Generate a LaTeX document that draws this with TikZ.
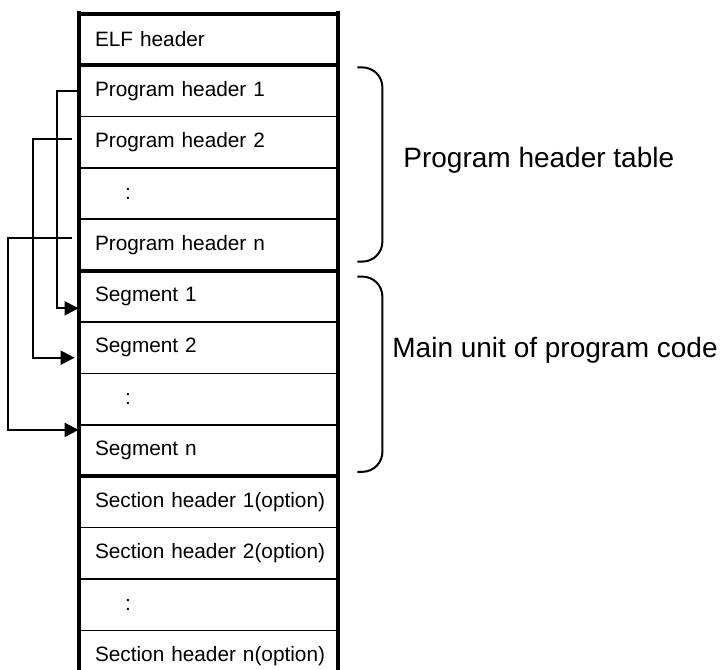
\documentclass[tikz,border=0pt]{standalone}
\usepackage{fontspec}
\setmainfont{Liberation Sans}
\usetikzlibrary{arrows.meta,positioning}
\tikzset{
    %Define style for the rows of the file
    cell/.style={
           rectangle,
           minimum width=129.5pt,
           minimum height=25.3pt,
           text width=129.5pt,
           inner sep=0pt,
           align=left,
           execute at begin node={\hspace*{8pt}},
           font=\fontsize{10.4}{12}\selectfont},
    % heavy and light rules
    wall/.style={line width=2pt},
    rule/.style={line width=0.8pt},
    % Define arrow style
    link/.style={
           -{Triangle[length=7pt,width=7pt]},
           line width=1pt},
    brace/.style={line width=1pt, rounded corners=10pt},
    note/.style={font=\fontsize{14}{17}\selectfont, anchor=west, inner sep=0pt}
}
\begin{document}
\begin{tikzpicture}[node distance=0pt]
\useasboundingbox (0,0) rectangle (362pt,-335pt);

 %rows
\node[cell] (elf) at (104.25pt,-19.65pt) {ELF header};
\node[cell, below=of elf] (ph1) {Program header 1};
\node[cell, below=of ph1] (ph2) {Program header 2};
\node[cell, below=of ph2] (phd) {\hspace*{15pt}:};
\node[cell, below=of phd] (phn) {Program header n};
\node[cell, below=of phn] (seg1) {Segment 1};
\node[cell, below=of seg1] (seg2) {Segment 2};
\node[cell, below=of seg2] (segd) {\hspace*{15pt}:};
\node[cell, below=of segd] (segn) {Segment n};
\node[cell, below=of segn] (sh1) {Section header 1(option)};
\node[cell, below=of sh1] (sh2) {Section header 2(option)};
\node[cell, below=of sh2] (shd) {\hspace*{15pt}:};
\node[cell, below=of shd] (shn) {Section header n(option)};

 %rules
\foreach \r in {ph1,ph2,phd,seg1,seg2,segd,sh1,sh2,shd}
    \draw[rule] (\r.south west) -- (\r.south east);
\draw[wall] (elf.north west) -- (elf.north east);
\foreach \r in {elf,phn,segn}
    \draw[wall] (\r.south west) -- (\r.south east);
\draw[wall] ([yshift=1.5pt]elf.north west) -- (shn.south west);
\draw[wall] ([yshift=1.5pt]elf.north east) -- (shn.south east);

 %links
\draw[link] (ph1.west) -- ++(-11pt,0) |- ([yshift=-6pt]seg1.west);
\draw[link] ([xshift=-3.5pt,yshift=1.5pt]ph2.west) -- ++(-19.5pt,0) |- ([xshift=-2pt,yshift=-5pt]seg2.west);
\draw[link] ([xshift=-3.5pt,yshift=3.3pt]phn.west) -- ++(-32pt,0) |- ([yshift=10.3pt]segn.west);

 %braces
\draw[brace] ([xshift=9.5pt,yshift=-1.2pt]ph1.north east) -- ++(12.5pt,0) |- ([xshift=9.5pt,yshift=4.5pt]phn.south east);
\draw[brace] ([xshift=9.5pt,yshift=-3pt]seg1.north east) -- ++(12.5pt,0) |- ([xshift=9.5pt,yshift=2.2pt]segn.south east);

\node[note] (phtable) at (201.5pt,-80pt) {Program header table};
\node[note] (mainunit) at (196pt,-175pt) {Main unit of program code};
\end{tikzpicture}
\end{document}
